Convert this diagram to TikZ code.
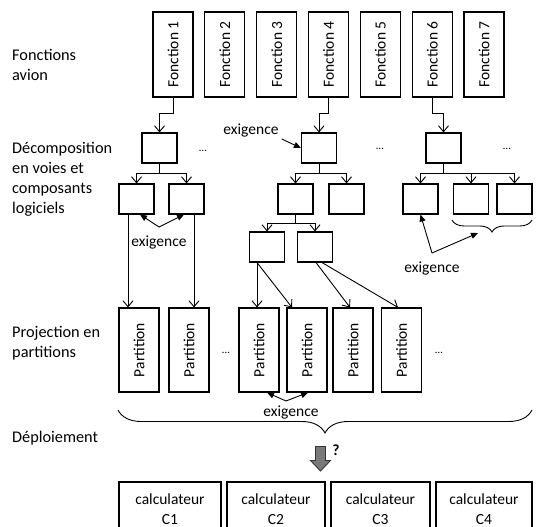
\documentclass[tikz,border=0pt]{standalone}
\usepackage{fontspec}
\setmainfont{Carlito}
\usepackage{graphicx}
\usetikzlibrary{arrows.meta,calc,decorations.pathreplacing}
\begin{document}
\begin{tikzpicture}[x=1pt,y=-1pt,
  box/.style={draw,line width=1.1pt,inner sep=0pt,font=\fontsize{15.5}{19}\selectfont},
  fonction/.style={box,minimum width=40pt,minimum height=85pt},
  bloc/.style={box,minimum width=35pt,minimum height=30pt},
  partition/.style={box,minimum width=40pt,minimum height=84pt},
  calculateur/.style={box,minimum height=54pt,align=center,font=\fontsize{15.5}{20}\selectfont},
  etiquette/.style={anchor=west,align=left,inner sep=0pt,font=\fontsize{16.3}{20}\selectfont},
  txt/.style={inner sep=0pt,font=\fontsize{15.5}{19}\selectfont},
  pts/.style={inner sep=0pt,font=\fontsize{11}{12}\selectfont},
  lien/.style={line width=0.9pt},
  fl/.style={lien,-{Straight Barb[length=6pt,width=10pt]}},
  ex/.style={lien,-{Triangle[length=7pt,width=6pt]}},
  accolade/.style={lien,decorate,decoration={brace,mirror,amplitude=#1}},
]
\useasboundingbox (0,0) rectangle (539,527);

% row labels
\node[etiquette] (lf) at (12,65) {Fonctions\\avion};
\node[etiquette] (ld) at (12,179.5) {Décomposition\\en voies et\\composants\\logiciels};
\node[etiquette] (lp) at (12,343) {Projection en\\partitions};
\node[etiquette] (ldep) at (12,438) {Déploiement};

% aircraft functions
\foreach \i/\x in {1/173,2/224.8,3/276.7,4/328.5,5/380.3,6/432.2,7/484}
  \node[fonction] (f\i) at (\x,54.5) {\rotatebox{90}{Fonction \i}};

% left tree
\node[bloc] (a0) at (159.5,148) {};
\node[bloc] (a1) at (136.5,199) {};
\node[bloc] (a2) at (186.5,199) {};
% middle tree
\node[bloc] (b0) at (319,148) {};
\node[bloc] (b1) at (295.5,199) {};
\node[bloc] (b2) at (346.5,199) {};
\node[bloc] (b3) at (267,247) {};
\node[bloc] (b4) at (315,247) {};
% right tree
\node[bloc] (c0) at (443.5,148) {};
\node[bloc] (c1) at (420.5,199) {};
\node[bloc] (c2) at (471,199) {};
\node[bloc] (c3) at (514.5,199) {};

\node[pts] (d1) at (203,151) {…};
\node[pts] (d2) at (380,149) {…};
\node[pts] (d3) at (507,149) {…};

% partitions
\foreach \i/\x in {1/139,2/189,3/259,4/307,5/353,6/401.5}
  \node[partition] (p\i) at (\x,350) {\rotatebox{90}{Partition}};
\node[pts] (d4) at (226,353) {…};
\node[pts] (d5) at (439,353) {…};

% computers
\node[calculateur,minimum width=102pt] (k1) at (170,509) {calculateur\\C1};
\node[calculateur,minimum width=98pt] (k2) at (276,509) {calculateur\\C2};
\node[calculateur,minimum width=99pt] (k3) at (380.5,509) {calculateur\\C3};
\node[calculateur,minimum width=96pt] (k4) at (484,509) {calculateur\\C4};

% functions to first-level components
\draw[fl] (f1.south) -- ++(0,16) -| (a0.north);
\draw[fl] (f4.south) -- ++(0,16) -| (b0.north);
\draw[fl] (f6.south) -- ++(0,16) -| (c0.north);

% splits into channels
\draw[lien] (a0.south) -- ++(0,10) coordinate (sa);
\draw[fl] (sa) -| (a1.north);
\draw[fl] (sa) -| (a2.north);
\draw[lien] (b0.south) -- ++(0,10) coordinate (sb);
\draw[fl] (sb) -| (b1.north);
\draw[fl] (sb) -| (b2.north);
\draw[lien] (b1.south) -- ++(0,9) coordinate (sb1);
\draw[fl] (sb1) -| (b3.north);
\draw[fl] (sb1) -| (b4.north);
\draw[lien] (c0.south) -- ++(0,10) coordinate (sc);
\draw[fl] (sc) -| (c1.north);
\draw[fl] (sc) -| (c2.north);
\draw[fl] (sc) -| (c3.north);

% projection onto partitions
\draw[fl] ([xshift=-8.5pt]a1.south) -- ([xshift=-11pt]p1.north);
\draw[fl] ([xshift=7.5pt]a2.south) -- ([xshift=5pt]p2.north);
\draw[fl] ([xshift=-10pt]b3.south) -- ([xshift=-2pt]p3.north);
\draw[fl] ([xshift=-10pt]b3.south) -- ([xshift=-15pt]p4.north);
\draw[fl] ([xshift=1pt]b4.south) -- ([xshift=-3pt]p5.north);
\draw[fl] ([xshift=7pt]b4.south) -- ([xshift=-3.5pt]p6.north);

% requirements
\coordinate (ea) at (159,227);
\draw[ex] (ea) -- ([xshift=3.5pt]a1.south);
\draw[ex] (ea) -- ([xshift=-2.5pt]a2.south);
\node[txt] (xa) at (159,242) {exigence};

\node[txt] (xb) at (251,131) {exigence};
\draw[ex] (xb.east) ++(3,8) -- (b0.west);

\draw[accolade=12pt] (452,220) -- (532,220);
\coordinate (ec) at (432,253);
\draw[ex] (ec) -- (c1.south);
\draw[ex] (ec) -- (478,233);
\node[txt] (xc) at (432,268) {exigence};

\coordinate (ep) at (286,401);
\draw[ex] (ep) -- ([xshift=8pt]p3.south);
\draw[ex] (ep) -- ([xshift=1pt]p4.south);
\node[txt] (xp) at (291,412) {exigence};

% deployment
\draw[accolade=23pt] (118,410) -- (532,410);
\draw[line width=0.9pt,fill=gray!95!black,draw=black!80]
  (315.5,446.5) -- (325.5,446.5) -- (325.5,460.5) -- (330.5,460.5)
  -- (320.5,471) -- (310.5,460.5) -- (315.5,460.5) -- cycle;
\node[txt,font=\fontsize{15.5}{19}\selectfont\bfseries] (q) at (336,450) {?};
\end{tikzpicture}
\end{document}
